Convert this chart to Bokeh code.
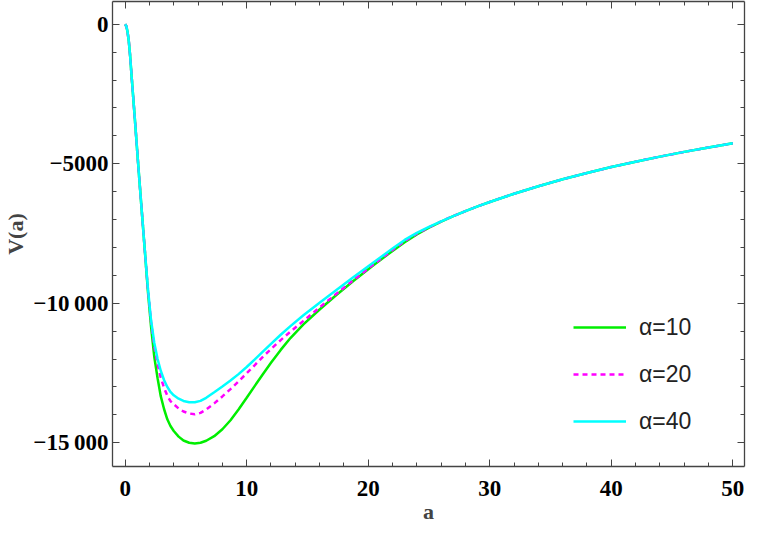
from bokeh.plotting import figure
from bokeh.models import (Range1d, FixedTicker, LinearAxis, Legend, LegendItem,
                          ColumnDataSource, CustomJSTickFormatter)
from bokeh.embed import file_html
from bokeh.resources import INLINE

# ---- data ----
a_vals = [0, 0.1, 0.2, 0.3, 0.4, 0.53, 0.8, 1.07, 1.33, 1.6, 1.87, 2.13, 2.4, 2.67,
          2.93, 3.2, 3.47, 3.73, 4.0, 4.4, 4.8, 5.27, 5.73, 6.2, 6.67, 7.33, 8.0,
          8.67, 9.33, 10.0, 10.67, 11.33, 12.0, 12.8, 13.6, 14.67, 16.0, 17.33,
          18.8, 20.4, 22.0, 23.0, 24.0, 25.0, 26.0, 27.0, 28.0, 29.0, 30.0, 32.0,
          34.0, 36.0, 38.0, 40.0, 42.0, 44.0, 46.0, 48.0, 50.0]

v_alpha10 = [0, -70, -280, -600, -1080, -1850, -3400, -5000, -6480, -8000, -9560,
             -10830, -11930, -12690, -13330, -13790, -14160, -14400, -14580, -14780,
             -14920, -15000, -15030, -15000, -14929, -14764, -14516, -14194, -13811,
             -13389, -12960, -12544, -12135, -11671, -11247, -10755, -10223, -9724,
             -9195, -8643, -8123, -7810, -7530, -7290, -7070, -6874, -6697, -6529,
             -6369, -6073, -5804, -5557, -5329, -5119, -4925, -4744, -4574, -4416,
             -4266]

v_alpha20 = [0, -70, -280, -600, -1080, -1850, -3400, -5000, -6480, -8000, -9480,
             -10660, -11560, -12190, -12665, -13030, -13315, -13510, -13620, -13770,
             -13880, -13950, -13980, -13930, -13805, -13590, -13340, -13075, -12800,
             -12510, -12215, -11920, -11640, -11320, -11020, -10630, -10150, -9680,
             -9165, -8620, -8090, -7775, -7505, -7280, -7066, -6874, -6697, -6529,
             -6369, -6073, -5804, -5557, -5329, -5119, -4925, -4744, -4574, -4416,
             -4266]

v_alpha40 = [0, -70, -280, -600, -1080, -1850, -3400, -5000, -6480, -8000, -9450,
             -10600, -11420, -12000, -12420, -12750, -13000, -13180, -13300, -13420,
             -13500, -13545, -13550, -13500, -13390, -13190, -12985, -12770, -12540,
             -12285, -12010, -11735, -11455, -11130, -10820, -10430, -9980, -9540,
             -9060, -8550, -8040, -7730, -7480, -7262, -7062, -6874, -6697, -6529,
             -6369, -6073, -5804, -5557, -5329, -5119, -4925, -4744, -4574, -4416,
             -4266]

labels = ["\u03b1=10", "\u03b1=20", "\u03b1=40"]

x_major = [0, 10, 20, 30, 40, 50]
x_minor = [2, 4, 6, 8, 12, 14, 16, 18, 22, 24, 26, 28, 32, 34, 36, 38, 42, 44, 46, 48]
y_major = [0, -5000, -10000, -15000]
y_minor = [-1000, -2000, -3000, -4000, -6000, -7000, -8000, -9000, -11000, -12000,
           -13000, -14000]
y_tick_text = {0: "0", -5000: "\u22125000", -10000: "\u221210\u2009000",
               -15000: "\u221215\u2009000"}

src = ColumnDataSource(dict(a=a_vals, v10=v_alpha10, v20=v_alpha20, v40=v_alpha40))

p = figure(width=747, height=529, x_range=Range1d(-1.04, 50.96),
           y_range=Range1d(-15851, 816), output_backend="svg",
           toolbar_location=None, min_border_left=112, min_border_right=3,
           min_border_top=1, min_border_bottom=63)
p.xgrid.visible = False
p.ygrid.visible = False
p.outline_line_color = None
p.background_fill_color = "white"

frame_col = "#444444"
tick_font = "Liberation Serif"

def style_axis(ax):
    ax.axis_line_color = frame_col
    ax.axis_line_width = 1.3
    ax.major_tick_line_color = frame_col
    ax.minor_tick_line_color = frame_col
    ax.major_tick_in = 7
    ax.major_tick_out = 0
    ax.minor_tick_in = 4
    ax.minor_tick_out = 0
    ax.major_label_text_font = tick_font
    ax.major_label_text_font_style = "bold"
    ax.major_label_text_font_size = "23px"
    ax.major_label_text_color = "black"

xax = p.xaxis[0]
xax.ticker = FixedTicker(ticks=x_major, minor_ticks=x_minor)
style_axis(xax)
xax.major_label_standoff = 14
xax.axis_label = "a"
xax.axis_label_text_font = tick_font
xax.axis_label_text_font_style = "bold"
xax.axis_label_text_font_size = "22px"
xax.axis_label_standoff = 0

yax = p.yaxis[0]
yax.ticker = FixedTicker(ticks=y_major, minor_ticks=y_minor)
yax.major_label_overrides = y_tick_text
style_axis(yax)
yax.major_label_standoff = 4
yax.axis_label = "V(a)"
yax.axis_label_text_font = tick_font
yax.axis_label_text_font_style = "bold"
yax.axis_label_text_font_size = "22px"
yax.axis_label_standoff = 2

blank = CustomJSTickFormatter(code="return ''")
top = LinearAxis(ticker=FixedTicker(ticks=x_major, minor_ticks=x_minor), formatter=blank)
style_axis(top)
top.major_label_text_font_size = "0px"
top.major_label_standoff = 0
p.add_layout(top, "above")
right = LinearAxis(ticker=FixedTicker(ticks=y_major, minor_ticks=y_minor), formatter=blank)
style_axis(right)
right.major_label_text_font_size = "0px"
right.major_label_standoff = 0
p.add_layout(right, "right")

r10 = p.line("a", "v10", source=src, line_color="#00ee00", line_width=2.5)
r20 = p.line("a", "v20", source=src, line_color="#ff00ff", line_width=2.5,
             line_dash="5 4")
r40 = p.line("a", "v40", source=src, line_color="#00ffff", line_width=2.5)

legend = Legend(items=[LegendItem(label=labels[0], renderers=[r10]),
                       LegendItem(label=labels[1], renderers=[r20]),
                       LegendItem(label=labels[2], renderers=[r40])],
                location=(461, 30), glyph_width=53, glyph_height=30,
                label_height=30, label_standoff=13, spacing=17, padding=0,
                margin=0, border_line_alpha=0, background_fill_alpha=0,
                label_text_font="Liberation Sans", label_text_font_size="23px",
                label_text_color="#222222")
p.add_layout(legend)

open("out.html", "w").write(file_html(p, INLINE))
